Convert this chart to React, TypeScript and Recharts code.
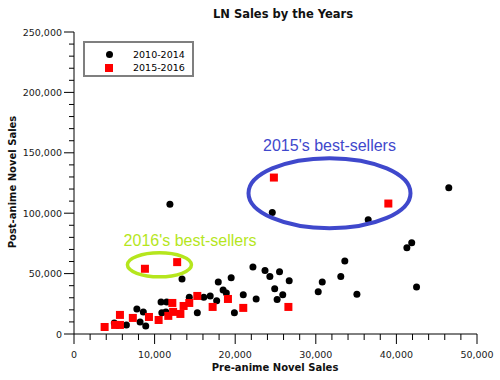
import React from "react";
import { Legend, ReferenceDot, Scatter, ScatterChart, XAxis, YAxis } from "recharts";

// 2010-2014 titles: pre-anime sales vs post-anime sales
const olderPre = [
  46500, 24600, 36500, 11900, 41300, 41900, 33600, 33100, 30800, 30300, 35100, 42500,
  22200, 23700, 24300, 25500, 26700, 24900, 25900, 25200, 22600, 13400, 17900, 19500,
  18500, 18900, 21000, 16900, 16100, 17700, 14300, 15300, 19900, 10800, 11500, 10900,
  11400, 7800, 8600, 8200, 8900, 6500, 5000,
];
const olderPost = [
  121000, 100500, 94500, 107500, 71500, 75500, 60500, 47500, 43000, 35000, 33000, 39000,
  55500, 52500, 47500, 51500, 44000, 37500, 32500, 28500, 29000, 45500, 43000, 46500,
  36500, 34000, 32500, 31500, 30500, 27500, 30500, 17500, 17500, 26500, 26500, 17500,
  18300, 20700, 18300, 10000, 6600, 7500, 9100,
];

// 2015-2016 titles
const newerPre = [
  24800, 39000, 8800, 12800, 3800, 5100, 5700, 5700, 7300, 9300, 10500, 12200, 12300,
  11700, 13200, 13600, 14300, 15300, 17200, 19100, 21000, 26600,
];
const newerPost = [
  129500, 108000, 54000, 59500, 5800, 7500, 7500, 15800, 13300, 14100, 11600, 25700, 18300,
  15000, 16600, 23200, 25700, 31500, 22400, 29000, 21600, 22400,
];

const xMajor = [0, 10000, 20000, 30000, 40000, 50000];
const yMajor = [0, 50000, 100000, 150000, 200000, 250000];
const xTicks = Array.from({ length: 26 }, (_, i) => i * 2000);
const yTicks = Array.from({ length: 26 }, (_, i) => i * 10000);

const older = olderPre.map((x, i) => ({ x, y: olderPost[i] }));
const newer = newerPre.map((x, i) => ({ x, y: newerPost[i] }));

const FONT = "'DejaVu Sans', Verdana, sans-serif";
const BLUE = "#3f48cc";
const LIME = "#b5e61d";

const fmt = (v: number) => v.toLocaleString("en-US");

function XTick(p: any) {
  const v = p.payload.value;
  const major = xMajor.includes(v);
  return (
    <g>
      <line x1={p.x} x2={p.x} y1={p.y} y2={p.y + (major ? 10 : 6)} stroke="#000" />
      {major && (
        <text x={p.x} y={p.y + 24} textAnchor="middle" fontSize={9.5} fontFamily={FONT} fill="#1a1a1a">
          {fmt(v)}
        </text>
      )}
    </g>
  );
}

function YTick(p: any) {
  const v = p.payload.value;
  const major = yMajor.includes(v);
  return (
    <g>
      <line x1={p.x - (major ? 10 : 5)} x2={p.x} y1={p.y} y2={p.y} stroke="#000" />
      {major && (
        <text x={p.x - 12} y={p.y + 3.5} textAnchor="end" fontSize={9.5} fontFamily={FONT} fill="#1a1a1a">
          {fmt(v)}
        </text>
      )}
    </g>
  );
}

function LegendBox() {
  const row: React.CSSProperties = { display: "flex", alignItems: "center", height: 13 };
  return (
    <div
      style={{
        boxSizing: "border-box",
        width: 111,
        height: 36,
        border: "2px solid #7f7f7f",
        background: "#fff",
        padding: "5px 0 0 20px",
        fontFamily: FONT,
        fontSize: 9.5,
        color: "#000",
        lineHeight: "13px",
      }}
    >
      <div style={row}>
        <span style={{ width: 7, height: 7, borderRadius: "50%", background: "#000", marginLeft: 1 }} />
        <span style={{ marginLeft: 20 }}>2010-2014</span>
      </div>
      <div style={row}>
        <span style={{ width: 8, height: 8, background: "#ff0000" }} />
        <span style={{ marginLeft: 20 }}>2015-2016</span>
      </div>
    </div>
  );
}

export default function App() {
  return (
    <div style={{ position: "absolute", left: 0, top: 0, width: 500, height: 380, background: "#fff" }}>
      <ScatterChart width={500} height={380} margin={{ top: 32, right: 23, bottom: 0, left: 0 }}>
        <text x={283} y={17.5} textAnchor="middle" fontSize={11.5} fontWeight="bold" fontFamily={FONT} fill="#111">
          LN Sales by the Years
        </text>
        <XAxis
          type="number"
          dataKey="x"
          domain={[0, 50000]}
          ticks={xTicks}
          interval={0}
          height={46}
          tickSize={0}
          tickMargin={0}
          tick={<XTick />}
          axisLine={{ stroke: "#000" }}
          label={() => (
            <text x={275} y={371} textAnchor="middle" fontSize={10} fontWeight="bold" fontFamily={FONT} fill="#111">
              Pre-anime Novel Sales
            </text>
          )}
        />
        <YAxis
          type="number"
          dataKey="y"
          domain={[0, 250000]}
          ticks={yTicks}
          interval={0}
          width={74}
          tickSize={0}
          tickMargin={0}
          tick={<YTick />}
          axisLine={{ stroke: "#000" }}
          label={() => (
            <text
              x={16}
              y={182}
              transform="rotate(-90 16 182)"
              textAnchor="middle"
              fontSize={10}
              fontWeight="bold"
              fontFamily={FONT}
              fill="#111"
            >
              Post-anime Novel Sales
            </text>
          )}
        />
        <Legend
          verticalAlign="middle"
          align="center"
          content={() => <LegendBox />}
          wrapperStyle={{ left: 83, top: 41, width: 111, height: 36 }}
        />
        <Scatter
          name="2010-2014"
          data={older}
          isAnimationActive={false}
          shape={(p: any) => <circle cx={p.cx} cy={p.cy} r={3.5} fill="#000" />}
        />
        <Scatter
          name="2015-2016"
          data={newer}
          isAnimationActive={false}
          shape={(p: any) => <rect x={p.cx - 4} y={p.cy - 4} width={8} height={8} fill="#ff0000" />}
        />
        {/* hand-drawn style annotations */}
        <ReferenceDot
          x={31700}
          y={116600}
          shape={(p: any) => (
            <ellipse cx={p.cx} cy={p.cy} rx={81} ry={35} fill="none" stroke={BLUE} strokeWidth={4} />
          )}
        />
        <ReferenceDot
          x={10600}
          y={57300}
          shape={(p: any) => (
            <ellipse cx={p.cx} cy={p.cy} rx={32} ry={12} fill="none" stroke={LIME} strokeWidth={3.5} />
          )}
        />
        <ReferenceDot
          x={31700}
          y={151900}
          shape={(p: any) => (
            <text x={p.cx} y={p.cy} textAnchor="middle" fontSize={16} fontFamily="'Liberation Sans', Arial, sans-serif" fill={BLUE}>
              2015's best-sellers
            </text>
          )}
        />
        <ReferenceDot
          x={14400}
          y={73000}
          shape={(p: any) => (
            <text x={p.cx} y={p.cy} textAnchor="middle" fontSize={16} fontFamily="'Liberation Sans', Arial, sans-serif" fill={LIME}>
              2016's best-sellers
            </text>
          )}
        />
      </ScatterChart>
    </div>
  );
}
